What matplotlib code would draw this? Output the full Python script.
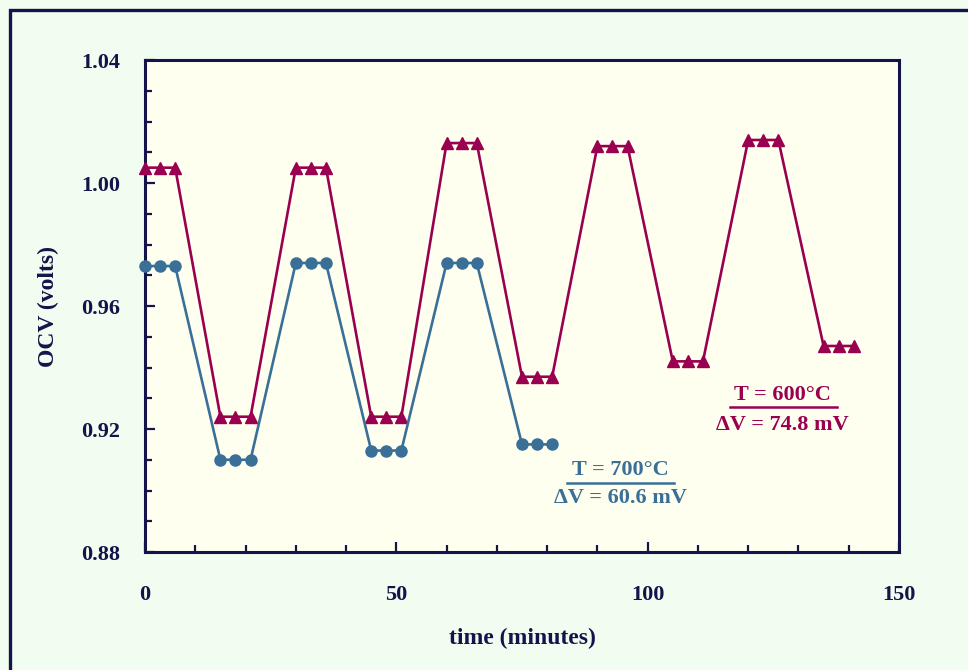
import matplotlib
matplotlib.use("Agg")
import matplotlib.pyplot as plt
from matplotlib.patches import Rectangle
from matplotlib.lines import Line2D
from matplotlib.ticker import MultipleLocator

# OCV cycling at two temperatures (three readings per plateau)
t_600 = [0, 3, 6, 15, 18, 21, 30, 33, 36, 45, 48, 51, 60, 63, 66,
         75, 78, 81, 90, 93, 96, 105, 108, 111, 120, 123, 126, 135, 138, 141]
v_600 = [1.005, 1.005, 1.005, 0.924, 0.924, 0.924, 1.005, 1.005, 1.005,
         0.924, 0.924, 0.924, 1.013, 1.013, 1.013, 0.937, 0.937, 0.937,
         1.012, 1.012, 1.012, 0.942, 0.942, 0.942, 1.014, 1.014, 1.014,
         0.947, 0.947, 0.947]

t_700 = [0, 3, 6, 15, 18, 21, 30, 33, 36, 45, 48, 51, 60, 63, 66, 75, 78, 81]
v_700 = [0.973, 0.973, 0.973, 0.910, 0.910, 0.910, 0.974, 0.974, 0.974,
         0.913, 0.913, 0.913, 0.974, 0.974, 0.974, 0.915, 0.915, 0.915]

NAVY = "#14144a"
RED = "#990050"
BLUE = "#3a6f98"
FRAME_BG = "#f1fdf1"
PLOT_BG = "#fffff0"

plt.rcParams["font.family"] = ["Liberation Serif", "DejaVu Serif"]
plt.rcParams["font.weight"] = "bold"

fig = plt.figure(figsize=(9.68, 6.70), dpi=100, facecolor=FRAME_BG)
ax = fig.add_axes([0.1498, 0.1761, 0.7789, 0.7343])
ax.set_facecolor(PLOT_BG)

# outer border (runs off the right and bottom edges)
fig.patches.append(Rectangle((10 / 968, -0.2), 1.2, 0.2 + 660 / 670,
                             transform=fig.transFigure, fill=False,
                             edgecolor=NAVY, lw=2.4, zorder=0))

ax.plot(t_600, v_600, "-^", color=RED, lw=1.9, ms=9, clip_on=False, zorder=3)
ax.plot(t_700, v_700, "-o", color=BLUE, lw=1.9, ms=8, clip_on=False, zorder=3)

ax.set_xlim(0, 150)
ax.set_ylim(0.88, 1.04)
ax.xaxis.set_major_locator(MultipleLocator(50))
ax.xaxis.set_minor_locator(MultipleLocator(10))
ax.yaxis.set_major_locator(MultipleLocator(0.04))
ax.yaxis.set_minor_locator(MultipleLocator(0.01))
ax.yaxis.set_major_formatter(lambda v, p: f"{v:.2f}")

for s in ax.spines.values():
    s.set_color(NAVY)
    s.set_linewidth(2.2)

ax.tick_params(axis="both", which="both", direction="in", color=NAVY,
               width=1.6, top=False, right=False)
ax.tick_params(axis="both", which="major", length=7)
ax.tick_params(axis="both", which="minor", length=5)
ax.tick_params(axis="x", which="major", pad=24, labelsize=16, labelcolor=NAVY)
ax.tick_params(axis="y", which="major", pad=18, labelsize=16, labelcolor=NAVY)

ax.set_xlabel("time (minutes)", fontsize=17, fontweight="bold", color=NAVY,
              labelpad=16)
ax.set_ylabel("OCV (volts)", fontsize=17, fontweight="bold", color=NAVY,
              labelpad=16)

# amplitude annotations
ax.text(0.845, 0.319, "T = 600°C", transform=ax.transAxes, ha="center",
        va="center", fontsize=16, color=RED)
ax.add_line(Line2D([0.776, 0.918], [0.295, 0.295], transform=ax.transAxes,
                   color=RED, lw=1.8))
ax.text(0.845, 0.258, "ΔV = 74.8 mV", transform=ax.transAxes, ha="center",
        va="center", fontsize=16, color=RED)

ax.text(0.631, 0.167, "T = 700°C", transform=ax.transAxes, ha="center",
        va="center", fontsize=16, color=BLUE)
ax.add_line(Line2D([0.560, 0.702], [0.140, 0.140], transform=ax.transAxes,
                   color=BLUE, lw=1.8))
ax.text(0.631, 0.110, "ΔV = 60.6 mV", transform=ax.transAxes, ha="center",
        va="center", fontsize=16, color=BLUE)

fig.savefig("out.png", dpi=100, facecolor=FRAME_BG)
